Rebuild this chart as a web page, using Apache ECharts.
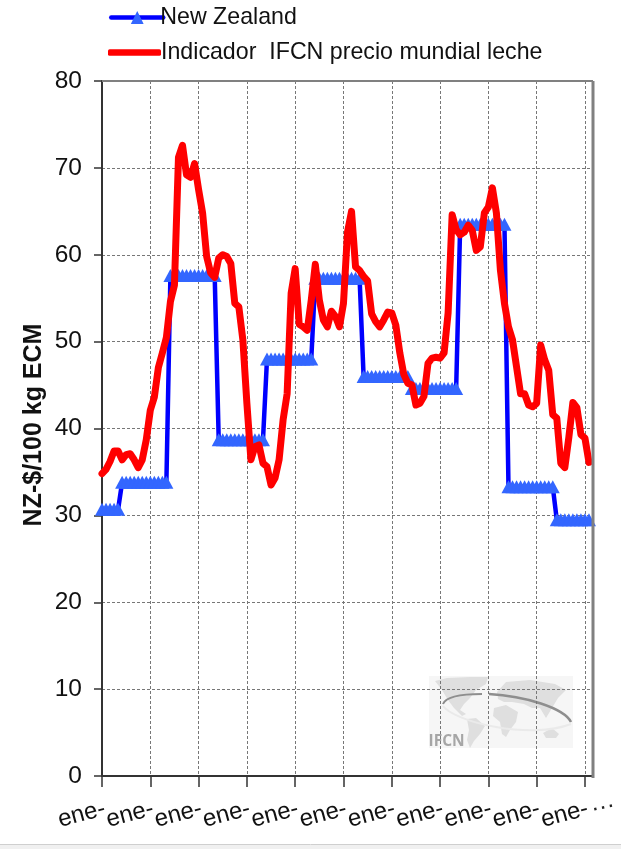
<!DOCTYPE html>
<html><head><meta charset="utf-8">
<script src="https://cdn.jsdelivr.net/npm/echarts@6/dist/echarts.min.js"></script>
<style>html,body{margin:0;padding:0;background:#fff}#c{width:621px;height:849px}</style>
</head><body><div id="c"></div>
<script>
const seriesNames = ['New Zealand', 'Indicador  IFCN precio mundial leche'];
const yTicks = [0, 10, 20, 30, 40, 50, 60, 70, 80];
const yTitle = 'NZ-$/100 kg ECM';
const tickLabel = 'ene-';
const newZealand = [
 30.7,30.7,30.7,30.7,30.7,
 33.8,33.8,33.8,33.8,33.8,33.8,33.8,33.8,33.8,33.8,33.8,33.8,
 57.6,57.6,57.6,57.6,57.6,57.6,57.6,57.6,57.6,57.6,57.6,57.6,
 38.7,38.7,38.7,38.7,38.7,38.7,38.7,38.7,38.7,38.7,38.7,38.7,
 48,48,48,48,48,48,48,48,48,48,48,48,
 57.3,57.3,57.3,57.3,57.3,57.3,57.3,57.3,57.3,57.3,57.3,57.3,
 46,46,46,46,46,46,46,46,46,46,46,46,
 44.6,44.6,44.6,44.6,44.6,44.6,44.6,44.6,44.6,44.6,44.6,44.6,
 63.5,63.5,63.5,63.5,63.5,63.5,63.5,63.5,63.5,63.5,63.5,63.5,
 33.3,33.3,33.3,33.3,33.3,33.3,33.3,33.3,33.3,33.3,33.3,33.3,
 29.5,29.5,29.5,29.5,29.5,29.5,29.5,29.5,29.5
];
const worldPrice = [
 34.8,35.3,36.2,37.4,37.4,36.4,37,37.1,36.4,35.5,36.4,38.7,
 42.1,43.6,47,48.7,50.5,54.6,56.5,71.2,72.6,69.2,68.9,70.5,
 67.5,64.8,59.8,57.9,57.4,59.6,60,59.8,59,54.4,54,50.2,
 42.9,36.4,37.9,38.1,36,35.6,33.5,34.3,36.4,41,44,55.6,
 58.4,52,51.7,51.3,54.8,58.9,54.8,52.5,51.7,53.5,52.9,51.7,
 54.4,62.6,65,58.6,58.2,57.5,57,53.2,52.3,51.7,52.5,53.4,
 53.3,51.9,48.7,46.2,45.2,45,42.7,42.9,43.7,47.5,48.1,48.2,
 48.1,48.7,53.3,64.6,62.9,62.3,62.6,63.4,62.8,60.5,60.9,64.8,
 65.5,67.7,64.8,58.2,54.4,51.7,50.2,47.1,44,44,42.7,42.5,
 42.9,49.6,47.9,46.7,41.6,41.2,36,35.5,39,43,42.4,39.3,
 38.9,36.1
];
const categories = worldPrice.concat([null]).map(() => tickLabel);

const font = '"Liberation Sans", Arial, sans-serif';
const chart = echarts.init(document.getElementById('c'), null, {renderer:'canvas'});
const logoGrey = '#dfdfdf';
const lands = [
 [[435,681],[447,678],[470,677],[488,677],[486,684],[476,690],[470,698],[464,704],[460,710],[466,714],[462,716],[454,708],[448,700],[442,690]],
 [[467,719],[476,718],[485,726],[480,734],[474,741],[470,748],[467,740],[469,730]],
 [[497,692],[506,682],[530,680],[555,684],[566,690],[558,698],[552,708],[546,718],[540,708],[532,708],[524,704],[512,702],[504,702],[498,699]],
 [[494,708],[506,705],[518,712],[516,722],[510,730],[506,737],[502,734],[500,722],[493,716]],
 [[543,733],[552,728],[559,734],[556,738],[546,738]]
];
const labelBase = {show:true, rotate:15, margin:33, fontSize:24, color:'#111', fontFamily:font, padding:[0,-3,0,0], hideOverlap:false, showMinLabel:true};
chart.setOption({
 animation:false,
 backgroundColor:'#fff',
 textStyle:{fontFamily:font},
 legend:[
  {orient:'vertical', left:104, top:1, itemWidth:52, itemHeight:16,
   lineStyle:{width:4.5, color:'#0000ff', cap:'round'},
   textStyle:{fontSize:23.2, color:'#111', fontFamily:font, padding:[0,0,0,-8]},
   data:[{name:seriesNames[0]}]},
  {orient:'vertical', left:103, top:36, itemWidth:53, itemHeight:6.5, icon:'roundRect',
   textStyle:{fontSize:23.2, color:'#111', fontFamily:font, padding:[0,0,0,-5]},
   data:[{name:seriesNames[1]}]}
 ],
 grid:{left:102, right:28, top:81, bottom:73, show:false},
 graphic:[
  {type:'rect', z:-10, shape:{x:429,y:676,width:144,height:72}, style:{fill:'#f6f6f6'}},
  ...lands.map(p => ({type:'polygon', z:-9, shape:{points:p}, style:{fill:logoGrey}})),
  {type:'bezierCurve', z:-8, shape:{x1:443,y1:704,cpx1:446,cpy1:696,cpx2:465,cpy2:694,x2:482,y2:694}, style:{stroke:'#8e8e8e',lineWidth:2,fill:'none'}},
  {type:'bezierCurve', z:-8, shape:{x1:489,y1:694,cpx1:525,cpy1:696,cpx2:564,cpy2:708,x2:571,y2:722}, style:{stroke:'#8e8e8e',lineWidth:2.5,fill:'none'}},
  {type:'bezierCurve', z:-8, shape:{x1:443,y1:706,cpx1:455,cpy1:722,cpx2:530,cpy2:740,x2:571,y2:724}, style:{stroke:'#eaeaea',lineWidth:2,fill:'none'}},
  {type:'text', z:-8, x:428.5, y:734, style:{text:'IFCN', fill:'#a6a6a6', font:'bold 15.5px "Open Sans", sans-serif'}},
  {type:'line', z:5, shape:{x1:102,y1:81,x2:593,y2:81}, style:{stroke:'#808080',lineWidth:2}},
  {type:'line', z:5, shape:{x1:593,y1:81,x2:593,y2:778}, style:{stroke:'#808080',lineWidth:3}},
  {type:'text', z:5, x:589, y:798, rotation:0.2, style:{text:'···', fill:'#222', font:'24px '+font}},
  {type:'rect', z:5, shape:{x:0,y:845,width:621,height:4}, style:{fill:'#f0f0f0'}},
  {type:'line', z:5, shape:{x1:0,y1:844.5,x2:621,y2:844.5}, style:{stroke:'#cfcfcf',lineWidth:1}}
 ],
 xAxis:[{
  type:'category', position:'bottom', boundaryGap:false, data:categories,
  axisLine:{lineStyle:{color:'#333',width:2}},
  axisTick:{show:true, interval:11, length:11, lineStyle:{color:'#333',width:1.5}},
  axisLabel:Object.assign({}, labelBase, {interval:(i) => i % 24 === 0}),
  splitLine:{show:true, interval:11, lineStyle:{color:'#777',type:[3,2],width:1}}
 },{
  type:'category', position:'bottom', boundaryGap:false, data:categories,
  axisLine:{show:false}, axisTick:{show:false}, splitLine:{show:false},
  axisLabel:Object.assign({}, labelBase, {interval:(i) => i % 24 === 12})
 }],
 yAxis:{
  type:'value', min:yTicks[0], max:yTicks[yTicks.length-1], interval:10,
  name:yTitle, nameLocation:'middle', nameGap:55, nameRotate:90, nameMoveOverlap:false,
  nameTextStyle:{fontSize:25, fontWeight:'bold', color:'#111', fontFamily:font, padding:[0,0,0,7]},
  axisLine:{show:true, lineStyle:{color:'#333',width:2}},
  axisTick:{show:true, length:8, lineStyle:{color:'#333',width:1.5}},
  axisLabel:{fontSize:24.5, margin:20, color:'#111', fontFamily:font},
  splitLine:{show:true, lineStyle:{color:'#777',type:[3,2],width:1}}
 },
 series:[
  {name:seriesNames[0], type:'line', data:newZealand, showSymbol:true, showAllSymbol:true, symbol:'triangle', symbolSize:[14,13],
   itemStyle:{color:'#3366ff'}, lineStyle:{color:'#0000ff',width:4.5,cap:'round'}, clip:false, z:3},
  {name:seriesNames[1], type:'line', data:worldPrice, showSymbol:false, symbol:'none',
   itemStyle:{color:'#ff0000'}, lineStyle:{color:'#ff0000',width:7,cap:'round',join:'round'}, clip:false, z:4}
 ]
});
</script></body></html>
